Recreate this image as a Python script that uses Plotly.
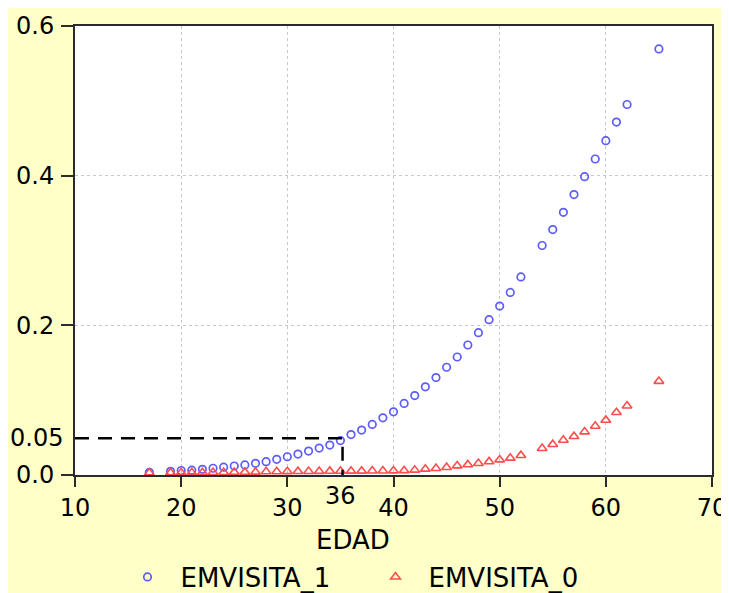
import plotly.graph_objects as go

# ---- data ----
edad = [17, 19, 20, 21, 22, 23, 24, 25, 26, 27, 28, 29, 30, 31, 32, 33, 34, 35, 36,
        37, 38, 39, 40, 41, 42, 43, 44, 45, 46, 47, 48, 49, 50, 51, 52,
        54, 55, 56, 57, 58, 59, 60, 61, 62, 65]

emvisita_1 = [0.0036, 0.0049, 0.0060, 0.0065, 0.0076, 0.0090, 0.0105, 0.0120, 0.0135,
              0.0156, 0.0178, 0.0210, 0.0244, 0.0280, 0.0320, 0.0360, 0.0400, 0.0460,
              0.0540, 0.0600, 0.0676, 0.0764, 0.0844, 0.0956, 0.1062, 0.1178, 0.1302,
              0.1440, 0.1577, 0.1737, 0.1902, 0.2076, 0.2257, 0.2440, 0.2647,
              0.3067, 0.3280, 0.3510, 0.3747, 0.3987, 0.4223, 0.4467, 0.4716, 0.4951,
              0.5693]

emvisita_0 = [0.0030, 0.0031, 0.0032, 0.0033, 0.0034, 0.0035, 0.0036, 0.0037, 0.0038,
              0.0040, 0.0045, 0.0046, 0.0047, 0.0048, 0.0049, 0.0050, 0.0051, 0.0052,
              0.0053, 0.0054, 0.0055, 0.0056, 0.0057, 0.0060, 0.0067, 0.0080, 0.0089,
              0.0102, 0.0124, 0.0138, 0.0156, 0.0178, 0.0204, 0.0227, 0.0262,
              0.0356, 0.0409, 0.0467, 0.0516, 0.0578, 0.0653, 0.0733, 0.0836, 0.0924,
              0.1253]

x_ticks = [10, 20, 30, 40, 50, 60, 70]
y_ticks = [0.0, 0.2, 0.4, 0.6]
y_tick_text = ["0.0", "0.2", "0.4", "0.6"]

ref_age = 35.2        # vertical dashed reference (labelled "36")
ref_age_label = "36"
ref_prob = 0.049      # horizontal dashed reference (labelled "0.05")
ref_prob_label = "0.05"

FONT = "DejaVu Sans"
YELLOW = "#FFFFC8"
AXIS = "#2b2b2b"

fig = go.Figure()
fig.add_trace(go.Scatter(
    x=edad, y=emvisita_1, mode="markers", name="EMVISITA_1",
    marker=dict(symbol="circle-open", size=7.5, color="#5c5cff", line=dict(width=1.7)),
))
fig.add_trace(go.Scatter(
    x=edad, y=emvisita_0, mode="markers", name="EMVISITA_0",
    marker=dict(symbol="triangle-up-open", size=8.5, color="#ff4c4c", line=dict(width=1.6)),
))

# dashed reference lines
fig.add_trace(go.Scatter(
    x=[10, ref_age, ref_age], y=[ref_prob, ref_prob, 0], mode="lines",
    line=dict(color="black", width=2.5, dash="14px,9px"), showlegend=False,
    hoverinfo="skip",
))

fig.add_annotation(x=10, y=ref_prob, xref="x", yref="y", text=ref_prob_label,
                   showarrow=False, xanchor="right", yanchor="middle", xshift=-10,
                   font=dict(family=FONT, size=24, color="black"))
fig.add_annotation(x=ref_age, y=-0.047, xref="x", yref="paper", text=ref_age_label,
                   showarrow=False, xanchor="center", yanchor="middle", xshift=-2,
                   font=dict(family=FONT, size=24, color="black"))
fig.add_annotation(x=0.437, y=-0.145, xref="paper", yref="paper", text="EDAD",
                   showarrow=False, xanchor="center", yanchor="middle",
                   font=dict(family=FONT, size=26, color="black"))

fig.update_xaxes(range=[10, 70], tickvals=x_ticks, ticks="outside", ticklen=10,
                 tickcolor=AXIS, tickwidth=1.5, automargin=False,
                 showline=True, linecolor=AXIS, linewidth=2, mirror=True,
                 showgrid=True, gridcolor="#c8c8c8", griddash="dot", gridwidth=1,
                 zeroline=False, tickfont=dict(family=FONT, size=24, color="black"))
fig.update_yaxes(range=[0, 0.6], tickvals=y_ticks, ticktext=y_tick_text,
                 ticks="outside", ticklen=12, tickcolor=AXIS, tickwidth=1.5,
                 ticklabelstandoff=2, automargin=False,
                 showline=True, linecolor=AXIS, linewidth=2, mirror=True,
                 showgrid=True, gridcolor="#c8c8c8", griddash="dot", gridwidth=1,
                 zeroline=False, tickfont=dict(family=FONT, size=24, color="black"))

fig.update_layout(
    width=729, height=593,
    margin=dict(l=67, r=25, t=18, b=126),
    paper_bgcolor=YELLOW, plot_bgcolor="white",
    showlegend=True,
    legend=dict(orientation="h", x=0.062, xanchor="left",
                yref="container", y=0.0405, yanchor="middle",
                font=dict(family=FONT, size=26, color="black"),
                bgcolor="rgba(0,0,0,0)", entrywidth=177, entrywidthmode="pixels",
                itemwidth=56),
)

fig.write_html("out.html")
